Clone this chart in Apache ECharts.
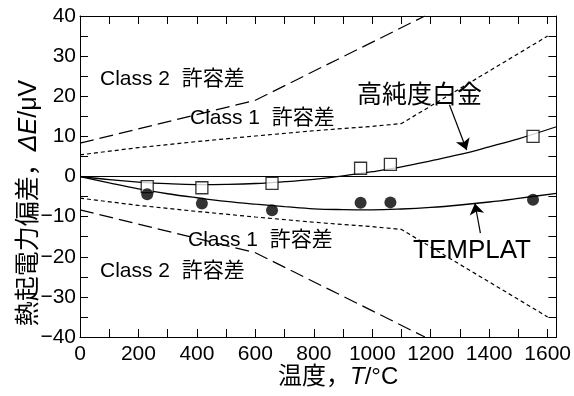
<!DOCTYPE html>
<html>
<head>
<meta charset="utf-8">
<script src="https://cdn.jsdelivr.net/npm/echarts@6/dist/echarts.min.js"></script>
<style>html,body{margin:0;padding:0;background:#fff}#c{width:574px;height:396px}</style>
</head>
<body>
<div id="c"></div>
<script>
// ---- data ----
const class2T = [0, 600, 1180];
const class2Upper = [8.3, 19.0, 40.0];
const class2Lower = [-8.3, -19.0, -40.0];

const class1T = [0, 200, 400, 600, 800, 1000, 1100, 1600];
const class1Upper = [5.4, 7.2, 8.7, 10.1, 11.4, 12.5, 13.2, 35.0];
const class1Lower = [-5.4, -7.2, -8.7, -10.1, -11.4, -12.5, -13.2, -35.0];

const curveT = [0, 100, 200, 300, 400, 500, 600, 700, 800, 900, 1000, 1100, 1200, 1300, 1400, 1500, 1630];
const ptCurve = [0, -0.8, -1.4, -1.8, -2.0, -1.95, -1.75, -1.3, -0.7, 0.15, 1.2, 2.4, 3.9, 5.5, 7.4, 9.4, 12.4];
const tpCurve = [0, -1.6, -3.1, -4.3, -5.3, -6.2, -6.9, -7.5, -8.05, -8.25, -8.3, -8.1, -7.7, -7.1, -6.35, -5.45, -4.2];

const measT = [230, 417, 657, 960, 1062, 1550];
const ptMeas = [-2.5, -2.8, -1.7, 2.05, 3.0, 10.0];
const tpMeas = [-4.45, -6.7, -8.4, -6.55, -6.45, -5.8];

const arrowPt = [[1264, 17.9], [1323, 6.6]];
const arrowTp = [[1370, -14.1], [1351, -6.7]];

const xTickLabels = [0, 200, 400, 600, 800, 1000, 1200, 1400, 1600];
const yTickLabels = [-40, -30, -20, -10, 0, 10, 20, 30, 40];

// ---- chart ----
const FF = "'Liberation Sans', 'Noto Sans CJK JP', sans-serif";
const zip = (xs, ys) => xs.map((x, i) => [x, ys[i]]);
const chart = echarts.init(document.getElementById('c'), null, {renderer: 'canvas'});

const axisCommon = {
  type: 'value',
  axisLine: {show: true, onZero: false, lineStyle: {color: '#000', width: 1}},
  axisTick: {show: true, inside: true, length: 8, lineStyle: {color: '#000', width: 1}},
  splitLine: {show: false}
};

const lineBase = (name, data, type, width) => ({
  name, type: 'line', data, symbol: 'none', silent: true,
  lineStyle: {color: '#000', width: width || 1.2, type: type || 'solid'},
  xAxisIndex: 0, yAxisIndex: 0, z: 2
});

const arrowML = (pts) => ({
  silent: true, symbol: ['none', 'arrow'], symbolSize: 11,
  label: {show: false},
  itemStyle: {color: '#000'},
  lineStyle: {color: '#000', width: 1.2, type: 'solid'},
  data: [[{coord: pts[0]}, {coord: pts[1]}]]
});

const option = {
  animation: false,
  backgroundColor: '#fff',
  grid: {left: 80, right: 15, top: 16, bottom: 59},
  xAxis: [
    Object.assign({}, axisCommon, {
      min: 0, max: 1630, interval: 100, position: 'bottom',
      axisLabel: {
        color: '#000', fontSize: 21, fontFamily: FF, margin: 7, showMaxLabel: false,
        formatter: v => xTickLabels.includes(v) ? String(v) : ''
      }
    }),
    Object.assign({}, axisCommon, {
      min: 0, max: 1630, interval: 100, position: 'top',
      axisLabel: {show: false}
    })
  ],
  yAxis: [
    Object.assign({}, axisCommon, {
      min: -40, max: 40, interval: 5, position: 'left',
      axisLabel: {
        color: '#000', fontSize: 21, fontFamily: FF, margin: 4,
        formatter: v => yTickLabels.includes(v) ? String(v).replace('-', '\u2212') : ''
      }
    }),
    Object.assign({}, axisCommon, {
      min: -40, max: 40, interval: 5, position: 'right',
      axisLabel: {show: false}
    })
  ],
  series: [
    lineBase('class2U', zip(class2T, class2Upper), [14, 6], 1.2),
    lineBase('class2L', zip(class2T, class2Lower), [14, 6], 1.2),
    lineBase('class1U', zip(class1T, class1Upper), [4, 3], 1.2),
    lineBase('class1L', zip(class1T, class1Lower), [4, 3], 1.2),
    Object.assign(lineBase('pt', zip(curveT, ptCurve), 'solid', 1.3), {
      smooth: 0.4,
      markLine: {
        silent: true, symbol: 'none', label: {show: false},
        lineStyle: {color: '#000', width: 1.2, type: 'solid'},
        data: [{yAxis: 0}]
      }
    }),
    Object.assign(lineBase('tp', zip(curveT, tpCurve), 'solid', 1.3), {smooth: 0.4}),
    {type: 'line', data: [], markLine: arrowML(arrowPt)},
    {type: 'line', data: [], markLine: arrowML(arrowTp)},
    {
      name: 'ptMeas', type: 'scatter', data: zip(measT, ptMeas), symbol: 'rect', symbolSize: 12,
      itemStyle: {color: '#fff', borderColor: '#000', borderWidth: 1.3}, silent: true, z: 4
    },
    {
      name: 'tpMeas', type: 'scatter', data: zip(measT, tpMeas), symbol: 'circle', symbolSize: 12,
      itemStyle: {color: '#000'}, silent: true, z: 5
    }
  ],
  graphic: [
    {type: 'text', x: 100, y: 79, style: {text: 'Class 2  許容差', font: '21px ' + FF, fill: '#000', textVerticalAlign: 'middle'}},
    {type: 'text', x: 190, y: 118, style: {text: 'Class 1  許容差', font: '21px ' + FF, fill: '#000', textVerticalAlign: 'middle'}},
    {type: 'text', x: 357, y: 96, style: {text: '高純度白金', font: '25px ' + FF, fill: '#000', textVerticalAlign: 'middle'}},
    {type: 'text', x: 188, y: 240, style: {text: 'Class 1  許容差', font: '21px ' + FF, fill: '#000', textVerticalAlign: 'middle'}},
    {type: 'text', x: 100, y: 271, style: {text: 'Class 2  許容差', font: '21px ' + FF, fill: '#000', textVerticalAlign: 'middle'}},
    {type: 'text', x: 413, y: 251, style: {text: 'TEMPLAT', font: '26px ' + FF, fill: '#000', textVerticalAlign: 'middle'}},
    {type: 'text', x: 278, y: 377, style: {
      text: '{n|温度，}{i|T}{n|/°C}', fill: '#000', textVerticalAlign: 'middle',
      rich: {n: {fontSize: 24, fontFamily: FF, fill: '#000'}, i: {fontSize: 24, fontFamily: FF, fontStyle: 'italic', fill: '#000'}}
    }},
    {type: 'text', x: 29, y: 203, rotation: Math.PI / 2, style: {
      text: '{n|熱起電力偏差，}{i|ΔE}{n|/μV}', fill: '#000', textAlign: 'center', textVerticalAlign: 'middle',
      rich: {n: {fontSize: 25, fontFamily: FF, fill: '#000'}, i: {fontSize: 25, fontFamily: FF, fontStyle: 'italic', fill: '#000'}}
    }}
  ]
};
chart.setOption(option);
</script>
</body>
</html>
